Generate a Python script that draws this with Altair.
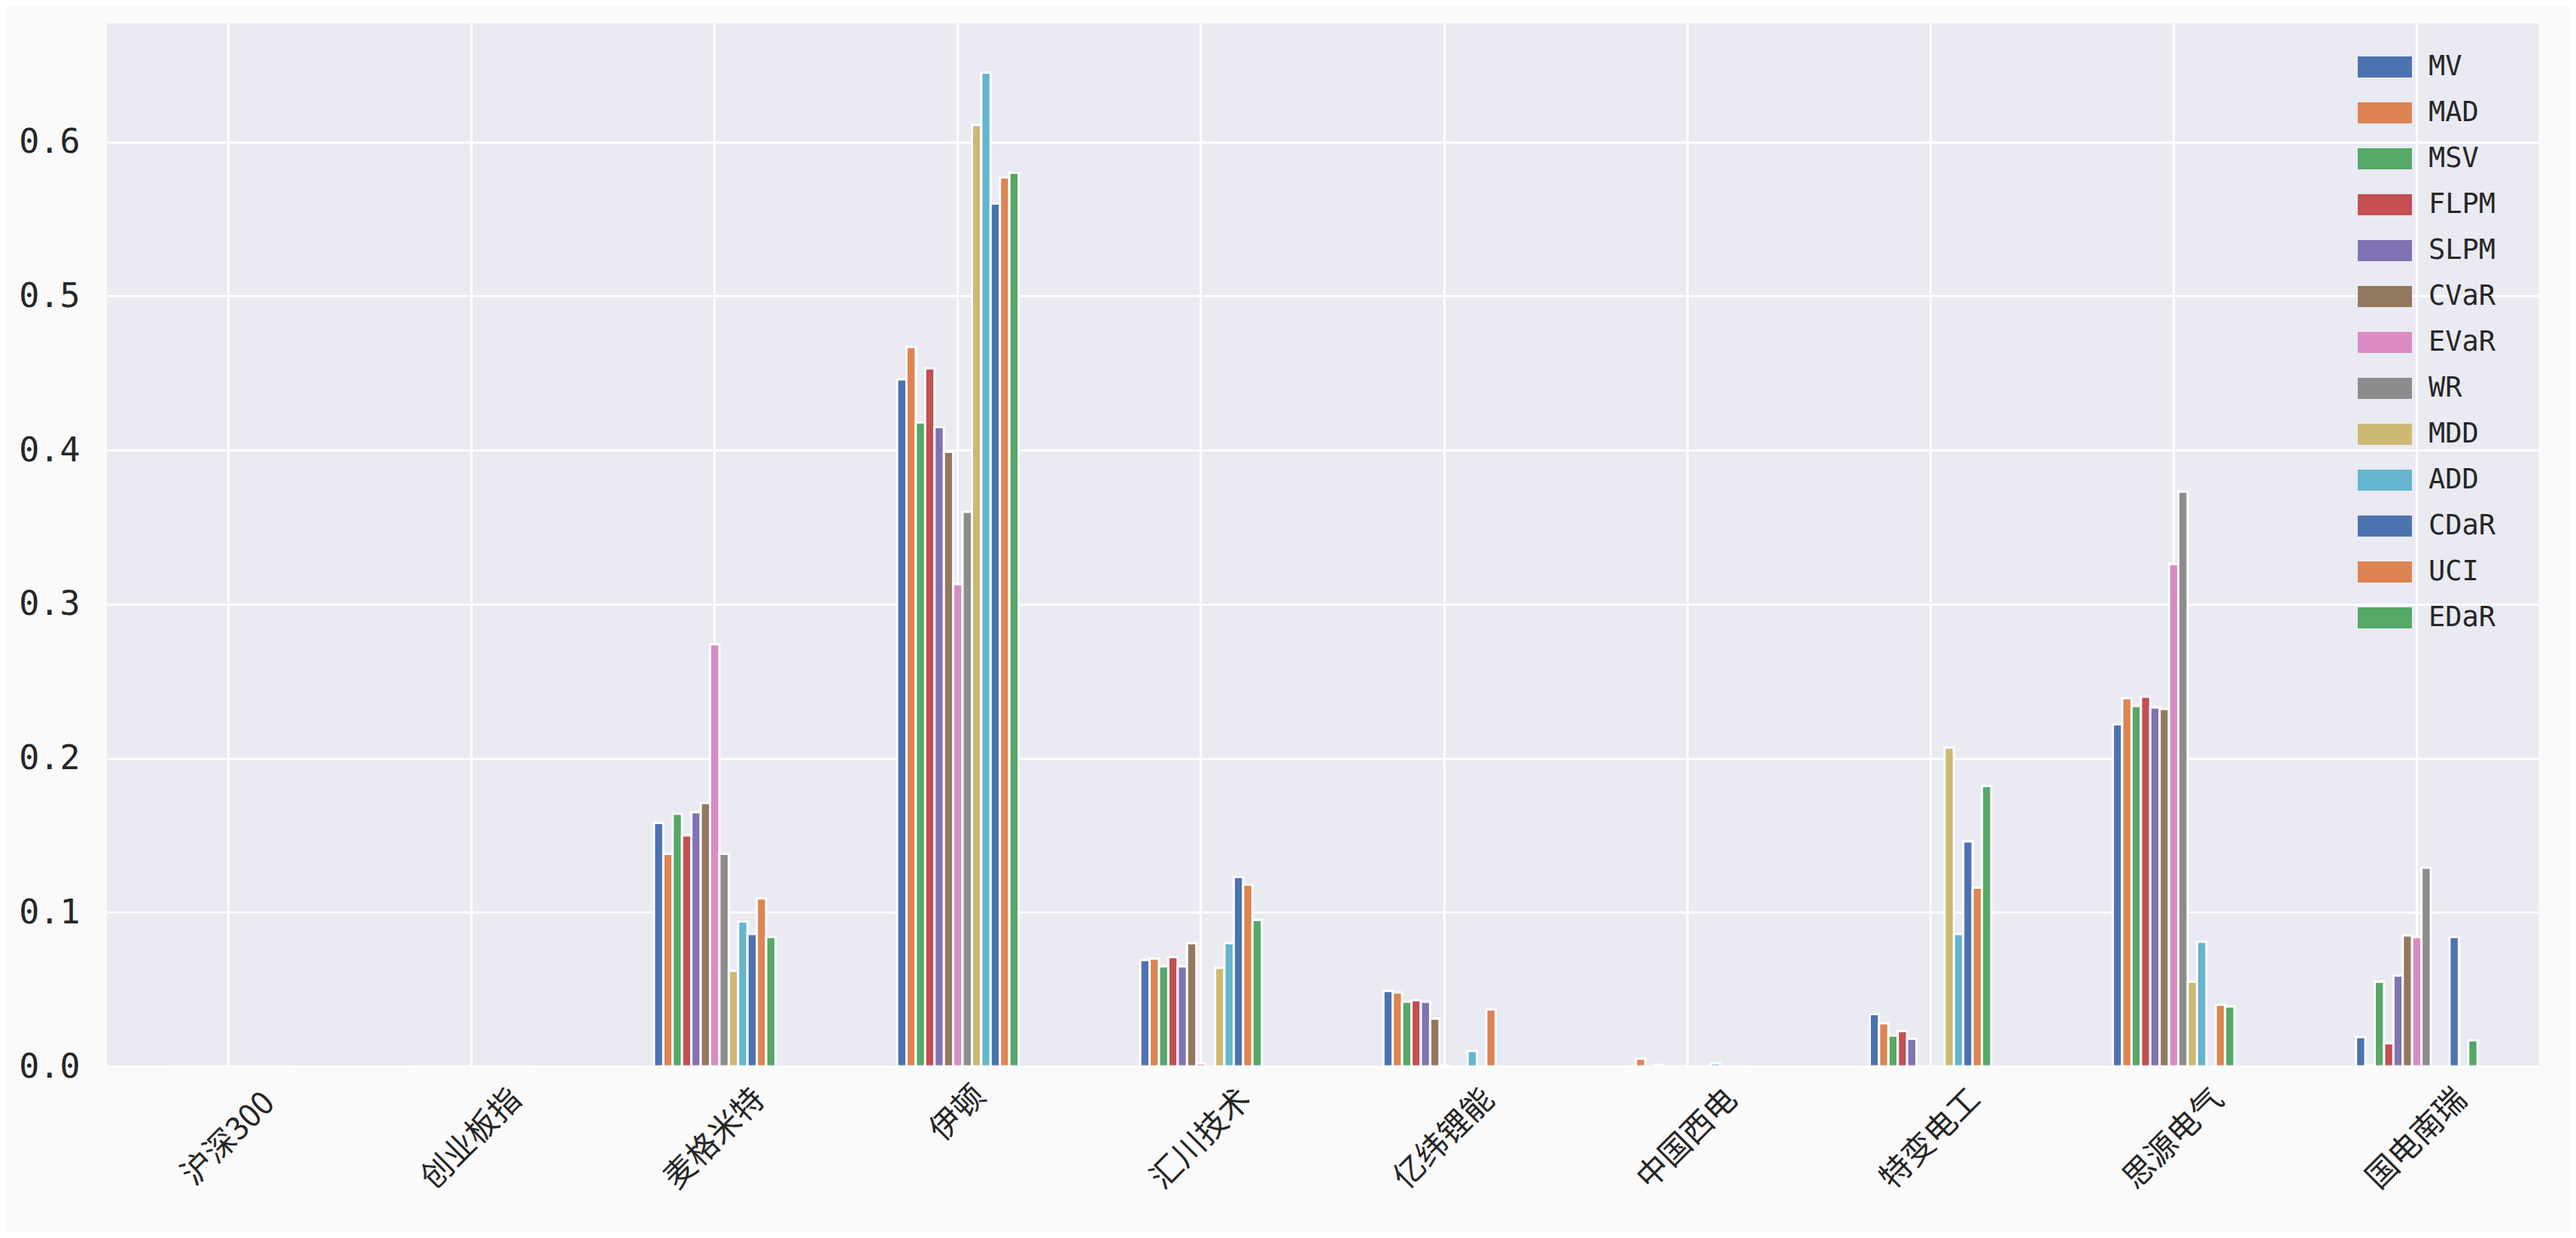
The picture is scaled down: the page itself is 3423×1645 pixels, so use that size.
import altair as alt
import pandas as pd

categories = ["沪深300", "创业板指", "麦格米特", "伊顿", "汇川技术", "亿纬锂能", "中国西电", "特变电工", "思源电气", "国电南瑞"]
methods = ["MV", "MAD", "MSV", "FLPM", "SLPM", "CVaR", "EVaR", "WR", "MDD", "ADD", "CDaR", "UCI", "EDaR"]

mv   = [0, 0, 0.158, 0.446, 0.069, 0.049, 0.000, 0.034, 0.222, 0.019]
mad  = [0, 0, 0.138, 0.467, 0.070, 0.048, 0.005, 0.028, 0.239, 0.001]
msv  = [0, 0, 0.164, 0.418, 0.065, 0.042, 0.000, 0.020, 0.234, 0.055]
flpm = [0, 0, 0.150, 0.453, 0.071, 0.043, 0.001, 0.023, 0.240, 0.015]
slpm = [0, 0, 0.165, 0.415, 0.065, 0.042, 0.000, 0.018, 0.233, 0.059]
cvar = [0, 0, 0.171, 0.399, 0.080, 0.031, 0.000, 0.000, 0.232, 0.085]
evar = [0, 0, 0.274, 0.313, 0.002, 0.0005, 0.000, 0.000, 0.326, 0.084]
wr   = [0, 0, 0.138, 0.360, 0.000, 0.000, 0.000, 0.000, 0.373, 0.129]
mdd  = [0, 0, 0.062, 0.611, 0.064, 0.000, 0.000, 0.207, 0.055, 0.000]
add  = [0, 0, 0.094, 0.645, 0.080, 0.010, 0.002, 0.086, 0.081, 0.000]
cdar = [0, 0, 0.086, 0.560, 0.123, 0.000, 0.000, 0.146, 0.000, 0.084]
uci  = [0, 0, 0.109, 0.577, 0.118, 0.037, 0.000, 0.116, 0.040, 0.000]
edar = [0, 0, 0.084, 0.580, 0.095, 0.000, 0.000, 0.182, 0.039, 0.017]

series = [mv, mad, msv, flpm, slpm, cvar, evar, wr, mdd, add, cdar, uci, edar]
colors = ["#4C72B0", "#DD8452", "#55A868", "#C44E52", "#8172B3", "#937860",
          "#DA8BC3", "#8C8C8C", "#CCB974", "#64B5CD", "#4C72B0", "#DD8452", "#55A868"]
y_ticks = [0.0, 0.1, 0.2, 0.3, 0.4, 0.5, 0.6]

rows = []
for m, vals in zip(methods, series):
    for c, v in zip(categories, vals):
        rows.append({"asset": c, "method": m, "weight": v})
df = pd.DataFrame(rows)

text_color = "#262626"

chart = alt.Chart(df).mark_bar(stroke="white", strokeWidth=3, opacity=1).encode(
    x=alt.X(
        "asset:N", sort=categories,
        scale=alt.Scale(paddingInner=0.5, paddingOuter=0.25),
        axis=alt.Axis(
            title=None, labelAngle=-45, labelAlign="center", labelBaseline="middle",
            labelPadding={"condition": {"test": "datum.label == '伊顿'", "value": 62}, "value": 96},
            labelFont="Noto Sans CJK SC", labelFontSize=42, labelColor=text_color,
            labelOverlap=False, labelFlush=False,
            domain=False, ticks=False, grid=True, gridColor="white", gridWidth=3,
            bandPosition=0.5,
        ),
    ),
    xOffset=alt.XOffset("method:N", sort=methods, scale=alt.Scale(paddingInner=0, paddingOuter=0)),
    y=alt.Y(
        "weight:Q",
        scale=alt.Scale(domain=[0, 0.677], nice=False),
        axis=alt.Axis(
            title=None, values=y_ticks, format=".1f",
            labelFont="DejaVu Sans Mono", labelFontSize=45, labelColor=text_color,
            labelPadding=36, domain=False, ticks=False,
            grid=True, gridColor="white", gridWidth=3,
        ),
    ),
    color=alt.Color(
        "method:N", sort=methods,
        scale=alt.Scale(domain=methods, range=colors),
        legend=alt.Legend(
            title=None, orient="none", legendX=2991, legendY=22,
            symbolType="M-1,-0.39H1V0.39H-1Z", symbolSize=5184,
            symbolStrokeWidth=0, symbolOpacity=1,
            labelFont="DejaVu Sans Mono", labelFontSize=37, labelColor=text_color,
            labelOffset=22, rowPadding=7, padding=0,
        ),
    ),
).properties(
    width=3231, height=1386,
    padding={"left": 134, "top": 23, "right": 42, "bottom": 220},
    autosize=alt.AutoSizeParams(type="none"),
    background="#FAFAFA",
).configure_view(
    fill="#EAEAF2", stroke=None,
)

chart.save("out.html", embed_options={"renderer": "svg", "actions": False})
